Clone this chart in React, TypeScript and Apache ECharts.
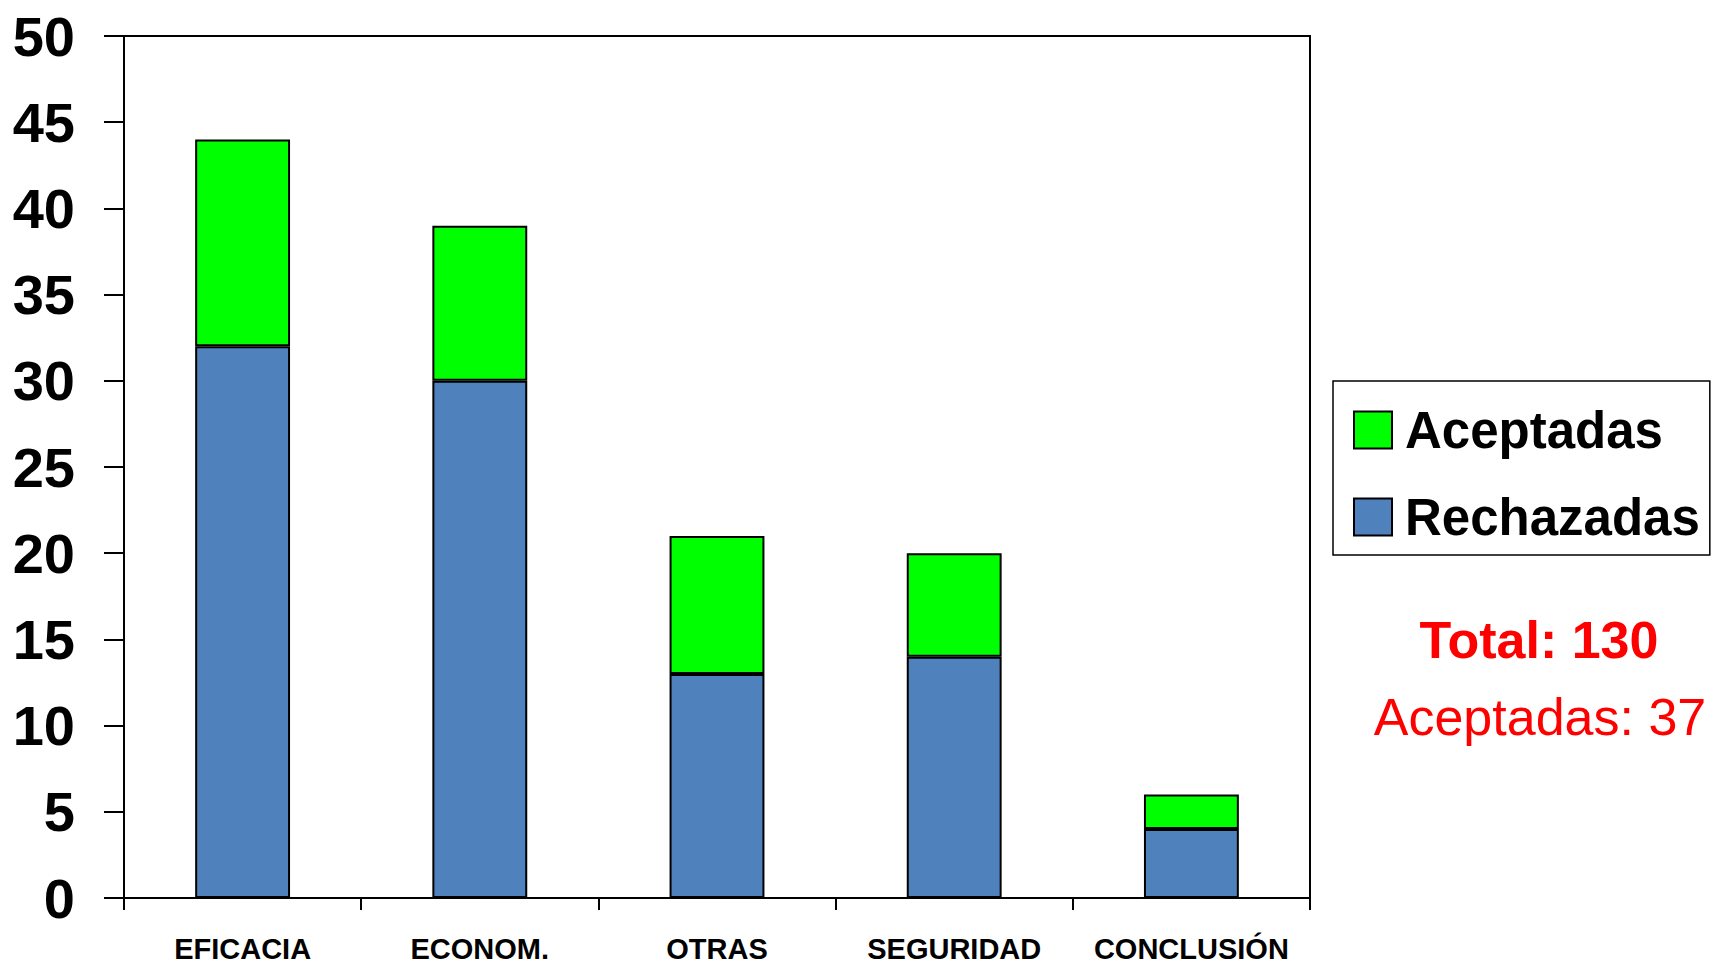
import React, { useEffect, useRef } from "react";
import * as echarts from "echarts";

const categories = ["EFICACIA", "ECONOM.", "OTRAS", "SEGURIDAD", "CONCLUSIÓN"];
const rechazadas = [32, 30, 13, 14, 4];
const aceptadas = [12, 9, 8, 6, 2];
const yTicks = { min: 0, max: 50, interval: 5 };
const totalText = "Total: 130";
const aceptadasText = "Aceptadas: 37";

const BOLDFONT = "'Liberation Sans Narrow', 'Liberation Sans', Arial, sans-serif";
const ARIAL = "'Liberation Sans', Arial, sans-serif";

export default function App() {
  const ref = useRef<HTMLDivElement>(null);
  useEffect(() => {
    if (!ref.current) return;
    const chart = echarts.init(ref.current, null, { renderer: "svg" });
    chart.setOption({
      animation: false,
      backgroundColor: "#ffffff",
      grid: {
        left: 124,
        top: 36,
        right: 406,
        bottom: 68,
        show: true,
        borderColor: "#000",
        borderWidth: 2,
        backgroundColor: "transparent",
      },
      xAxis: {
        type: "category",
        data: categories,
        boundaryGap: true,
        axisLine: { lineStyle: { color: "#000", width: 2 } },
        axisTick: { show: true, length: 12, alignWithLabel: false, lineStyle: { color: "#000", width: 2 } },
        axisLabel: {
          interval: 0,
          color: "#000",
          fontFamily: BOLDFONT,
          fontWeight: "bold",
          fontSize: 29,
          margin: 36,
        },
      },
      yAxis: {
        type: "value",
        min: yTicks.min,
        max: yTicks.max,
        interval: yTicks.interval,
        splitLine: { show: false },
        axisLine: { show: true, lineStyle: { color: "#000", width: 2 } },
        axisTick: { show: true, length: 20, lineStyle: { color: "#000", width: 2 } },
        axisLabel: {
          color: "#000",
          fontFamily: BOLDFONT,
          fontWeight: "bold",
          fontSize: 56,
          margin: 49,
        },
      },
      legend: {
        orient: "vertical",
        left: 1333,
        top: 381,
        data: ["Aceptadas", "Rechazadas"],
        itemWidth: 38,
        itemHeight: 37,
        itemGap: 27,
        padding: [19, 10, 8, 20],
        borderColor: "#000",
        borderWidth: 1.5,
        icon: "rect",
        itemStyle: { borderColor: "#000", borderWidth: 2 },
        textStyle: {
          color: "#000",
          fontFamily: BOLDFONT,
          fontWeight: "bold",
          fontSize: 51,
          lineHeight: 60,
          padding: [0, 0, 0, 8],
        },
      },
      graphic: [
        {
          type: "text",
          x: 1539,
          y: 640,
          style: {
            text: totalText,
            fill: "#ff0000",
            font: `bold 52px ${ARIAL}`,
            textAlign: "center",
            textVerticalAlign: "middle",
          },
        },
        {
          type: "text",
          x: 1540,
          y: 717,
          style: {
            text: aceptadasText,
            fill: "#ff0000",
            font: `52px ${ARIAL}`,
            textAlign: "center",
            textVerticalAlign: "middle",
          },
        },
      ],
      series: [
        {
          name: "Rechazadas",
          type: "bar",
          stack: "total",
          data: rechazadas,
          barWidth: "40%",
          itemStyle: { color: "#4f81bd", borderColor: "#000", borderWidth: 2 },
        },
        {
          name: "Aceptadas",
          type: "bar",
          stack: "total",
          data: aceptadas,
          barWidth: "40%",
          itemStyle: { color: "#00ff00", borderColor: "#000", borderWidth: 2 },
        },
      ],
    });
    return () => chart.dispose();
  }, []);
  return (
    <div
      ref={ref}
      style={{ position: "fixed", left: 0, top: 0, width: 1716, height: 966, background: "#fff" }}
    />
  );
}
